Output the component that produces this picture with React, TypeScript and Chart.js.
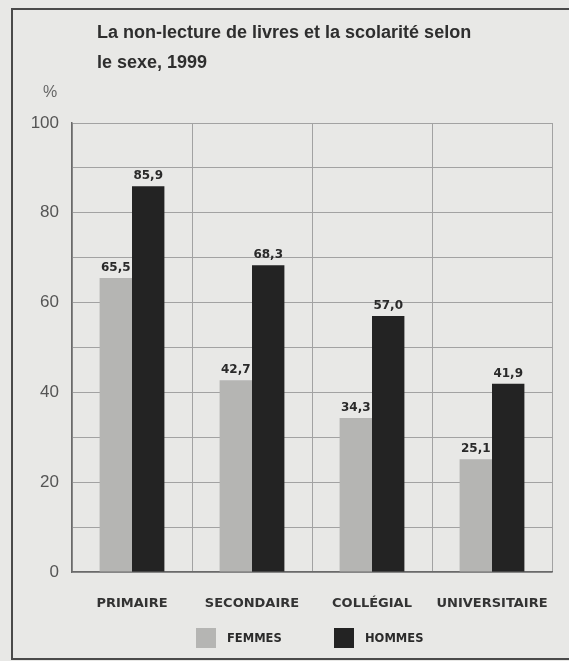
import React, { useEffect, useRef } from "react";
import { Chart, registerables } from "chart.js";

Chart.register(...registerables);

const titleLines = ["La non-lecture de livres et la scolarité selon", "le sexe, 1999"];
const unitLabel = "%";
const categories = ["PRIMAIRE", "SECONDAIRE", "COLLÉGIAL", "UNIVERSITAIRE"];
const femmes = [65.5, 42.7, 34.3, 25.1];
const hommes = [85.9, 68.3, 57.0, 41.9];
const seriesLabels = ["FEMMES", "HOMMES"];
const yMin = 0;
const yMax = 100;
const yGridStep = 10;
const yLabelStep = 20;

const BG = "#e8e8e6";
const FEM_COLOR = "#b5b5b3";
const HOM_COLOR = "#232323";

const W = 569;
const H = 661;

const fmt = (v: number) => v.toFixed(1).replace(".", ",");

const decorPlugin = {
  id: "decor",
  beforeDraw(chart: any) {
    const ctx = chart.ctx;
    ctx.save();
    ctx.fillStyle = BG;
    ctx.fillRect(0, 0, chart.width, chart.height);
    ctx.strokeStyle = "#4a4a4a";
    ctx.lineWidth = 2;
    ctx.beginPath();
    ctx.moveTo(W, 9);
    ctx.lineTo(12, 9);
    ctx.lineTo(12, 659);
    ctx.lineTo(W, 659);
    ctx.stroke();
    // title
    ctx.fillStyle = "#2e2e2e";
    ctx.font = "bold 18px 'Liberation Sans Narrow', 'Liberation Sans', Arial, sans-serif";
    ctx.textAlign = "left";
    ctx.textBaseline = "middle";
    titleLines.forEach((t, i) => ctx.fillText(t, 97, 33 + i * 30));
    // unit
    ctx.fillStyle = "#666";
    ctx.font = "16px 'Liberation Sans', Arial, sans-serif";
    ctx.textAlign = "center";
    ctx.fillText(unitLabel, 50, 93);
    ctx.restore();
  },
  afterDatasetsDraw(chart: any) {
    const ctx = chart.ctx;
    ctx.save();
    ctx.fillStyle = "#2a2a2a";
    ctx.font = "bold 12px 'DejaVu Sans', sans-serif";
    ctx.textAlign = "center";
    ctx.textBaseline = "bottom";
    chart.data.datasets.forEach((ds: any, di: number) => {
      const meta = chart.getDatasetMeta(di);
      meta.data.forEach((bar: any, i: number) => {
        ctx.fillText(fmt(ds.data[i]), bar.x, bar.y - 4);
      });
    });
    ctx.restore();
  },
  afterDraw(chart: any) {
    const ctx = chart.ctx;
    ctx.save();
    const swatchX = [196, 334];
    chart.data.datasets.forEach((ds: any, di: number) => {
      const x = swatchX[di];
      ctx.fillStyle = ds.backgroundColor;
      ctx.fillRect(x, 628, 20, 20);
      ctx.fillStyle = "#2a2a2a";
      ctx.font = "bold 11.5px 'DejaVu Sans', sans-serif";
      ctx.textAlign = "left";
      ctx.textBaseline = "middle";
      ctx.fillText(ds.label, x + 31, 639);
    });
    ctx.restore();
  },
};

export default function App() {
  const ref = useRef<HTMLCanvasElement>(null);
  useEffect(() => {
    if (!ref.current) return;
    const chart = new Chart(ref.current, {
      type: "bar",
      data: {
        labels: categories,
        datasets: [
          { label: seriesLabels[0], data: femmes, backgroundColor: FEM_COLOR, categoryPercentage: 0.54, barPercentage: 1.0 },
          { label: seriesLabels[1], data: hommes, backgroundColor: HOM_COLOR, categoryPercentage: 0.54, barPercentage: 1.0 },
        ],
      },
      options: {
        animation: false,
        responsive: false,
        maintainAspectRatio: false,
        layout: { padding: { left: 0, right: 17, top: 123, bottom: 0 } },
        plugins: { legend: { display: false }, title: { display: false }, tooltip: { enabled: false } },
        scales: {
          x: {
            offset: true,
            grid: { display: true, offset: true, color: "#a2a2a2", lineWidth: 1, drawTicks: false },
            border: { display: true, color: "#6a6a6a", width: 1.5 },
            ticks: {
              padding: 24,
              color: "#333",
              font: { family: "'DejaVu Sans', sans-serif", size: 13, weight: "bold" },
              maxRotation: 0,
              autoSkip: false,
            },
            afterFit(scale: any) {
              scale.height = H - 572;
              scale.paddingLeft = 0;
              scale.paddingRight = 0;
            },
          },
          y: {
            min: yMin,
            max: yMax,
            grid: { color: "#a2a2a2", lineWidth: 1, drawTicks: false },
            border: { display: true, color: "#6a6a6a", width: 1.5 },
            ticks: {
              stepSize: yGridStep,
              padding: 13,
              color: "#555",
              font: { family: "'Liberation Sans', Arial, sans-serif", size: 17 },
              callback: (v: any) => (Number(v) % yLabelStep === 0 ? String(v) : ""),
            },
            afterFit(scale: any) {
              scale.width = 72;
            },
          },
        },
      },
      plugins: [decorPlugin],
    } as any);
    return () => chart.destroy();
  }, []);
  return (
    <div style={{ position: "fixed", left: 0, top: 0, width: W, height: H, background: BG }}>
      <canvas ref={ref} width={W} height={H} style={{ width: W, height: H, display: "block" }} />
    </div>
  );
}
